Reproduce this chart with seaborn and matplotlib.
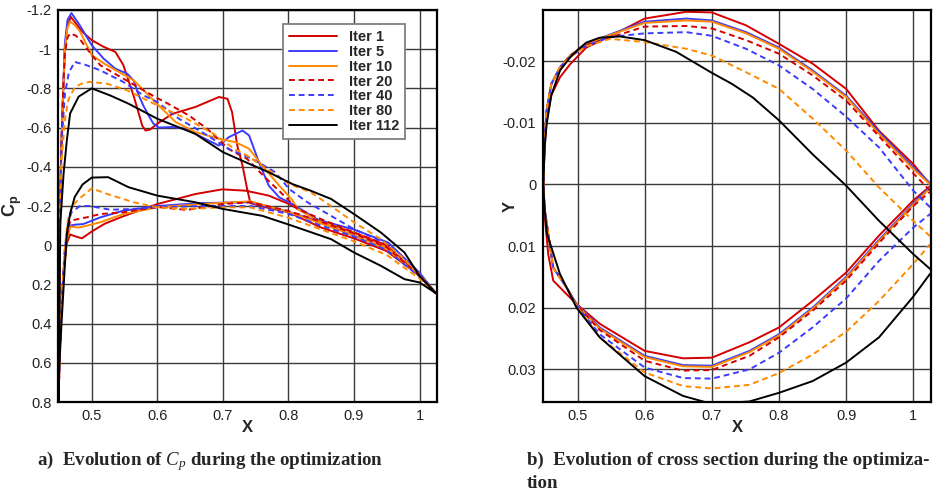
import matplotlib
matplotlib.use("Agg")
import pandas as pd
import seaborn as sns
import matplotlib.pyplot as plt
from matplotlib.ticker import MultipleLocator, FuncFormatter

# ---- series info ----
labels = ["Iter 1", "Iter 5", "Iter 10", "Iter 20", "Iter 40", "Iter 80", "Iter 112"]
colors = ["#d40000", "#3c3cff", "#ff8a00", "#d40000", "#3c3cff", "#ff8a00", "#000000"]
dashed = [False, False, False, True, True, True, False]

# ---- a) Cp distributions (upper = suction side, lower = pressure side) ----
cp1_xu = [0.449, 0.4505, 0.4515, 0.454, 0.4565, 0.459, 0.463, 0.468, 0.476, 0.485, 0.5, 0.518, 0.536, 0.548, 0.556, 0.564, 0.571, 0.577, 0.582, 0.589, 0.6, 0.623, 0.658, 0.694, 0.707, 0.714, 0.722, 0.73, 0.737, 0.742, 0.763, 0.8, 0.85, 0.9, 0.95, 1.0, 1.025]
cp1_u = [0.85, 0.3, -0.2, -0.55, -0.8, -1.0, -1.12, -1.165, -1.13, -1.09, -1.046, -1.012, -0.986, -0.92, -0.84, -0.76, -0.68, -0.61, -0.585, -0.59, -0.62, -0.67, -0.705, -0.756, -0.747, -0.679, -0.508, -0.406, -0.287, -0.215, -0.195, -0.168, -0.09, -0.035, 0.03, 0.155, 0.245]
cp1_xl = [0.449, 0.451, 0.454, 0.458, 0.462, 0.467, 0.475, 0.485, 0.5, 0.52, 0.546, 0.6, 0.658, 0.699, 0.735, 0.77, 0.801, 0.85, 0.9, 0.95, 1.0, 1.025]
cp1_l = [0.85, 0.55, 0.3, 0.1, -0.01, -0.055, -0.045, -0.035, -0.07, -0.11, -0.145, -0.21, -0.261, -0.285, -0.278, -0.253, -0.21, -0.12, -0.065, 0.0, 0.157, 0.245]

cp5_xu = [0.449, 0.4505, 0.4515, 0.454, 0.4565, 0.459, 0.463, 0.469, 0.476, 0.482, 0.5, 0.518, 0.536, 0.554, 0.564, 0.571, 0.579, 0.587, 0.594, 0.602, 0.623, 0.643, 0.668, 0.694, 0.709, 0.73, 0.74, 0.755, 0.77, 0.786, 0.806, 0.845, 0.9, 0.952, 1.0, 1.025]
cp5_u = [0.85, 0.3, -0.2, -0.55, -0.8, -1.03, -1.15, -1.184, -1.15, -1.12, -1.02, -0.952, -0.9, -0.875, -0.84, -0.77, -0.71, -0.66, -0.62, -0.6, -0.603, -0.594, -0.551, -0.508, -0.551, -0.585, -0.56, -0.423, -0.304, -0.244, -0.21, -0.13, -0.08, -0.014, 0.14, 0.245]
cp5_xl = [0.449, 0.451, 0.454, 0.458, 0.462, 0.467, 0.475, 0.487, 0.513, 0.548, 0.6, 0.666, 0.742, 0.763, 0.801, 0.85, 0.9, 0.952, 1.0, 1.025]
cp5_l = [0.85, 0.55, 0.3, 0.1, -0.03, -0.1, -0.105, -0.108, -0.142, -0.176, -0.2, -0.215, -0.219, -0.2, -0.17, -0.117, -0.048, 0.02, 0.157, 0.245]

cp10_xu = [0.449, 0.4505, 0.4515, 0.454, 0.4565, 0.459, 0.463, 0.467, 0.475, 0.482, 0.5, 0.523, 0.564, 0.582, 0.597, 0.628, 0.658, 0.694, 0.719, 0.74, 0.76, 0.786, 0.806, 0.814, 0.845, 0.9, 0.952, 1.0, 1.025]
cp10_u = [0.85, 0.3, -0.2, -0.55, -0.8, -1.0, -1.11, -1.141, -1.12, -1.09, -0.969, -0.918, -0.841, -0.78, -0.73, -0.628, -0.577, -0.543, -0.526, -0.492, -0.406, -0.304, -0.23, -0.185, -0.125, -0.065, 0.012, 0.148, 0.245]
cp10_xl = [0.449, 0.451, 0.454, 0.458, 0.462, 0.467, 0.48, 0.492, 0.513, 0.548, 0.6, 0.666, 0.742, 0.8, 0.85, 0.9, 0.95, 1.0, 1.025]
cp10_l = [0.85, 0.55, 0.3, 0.1, -0.03, -0.095, -0.09, -0.099, -0.117, -0.159, -0.193, -0.21, -0.224, -0.17, -0.11, -0.05, 0.02, 0.155, 0.245]

cp20_xu = [0.449, 0.4505, 0.4515, 0.454, 0.4565, 0.459, 0.463, 0.467, 0.475, 0.482, 0.5, 0.513, 0.548, 0.579, 0.6, 0.612, 0.648, 0.676, 0.709, 0.737, 0.763, 0.788, 0.814, 0.85, 0.9, 0.952, 1.0, 1.025]
cp20_u = [0.85, 0.3, -0.2, -0.55, -0.8, -0.98, -1.06, -1.08, -1.07, -1.05, -0.97, -0.918, -0.85, -0.79, -0.75, -0.73, -0.662, -0.594, -0.49, -0.44, -0.35, -0.27, -0.185, -0.133, -0.065, 0.003, 0.148, 0.245]
cp20_xl = [0.449, 0.451, 0.454, 0.458, 0.462, 0.467, 0.492, 0.513, 0.548, 0.6, 0.645, 0.7, 0.742, 0.8, 0.85, 0.9, 0.95, 1.0, 1.025]
cp20_l = [0.85, 0.55, 0.3, 0.1, -0.05, -0.125, -0.142, -0.159, -0.168, -0.195, -0.18, -0.21, -0.219, -0.175, -0.12, -0.06, 0.01, 0.155, 0.245]

cp40_xu = [0.449, 0.4505, 0.452, 0.454, 0.459, 0.465, 0.474, 0.492, 0.513, 0.548, 0.579, 0.6, 0.633, 0.668, 0.709, 0.745, 0.78, 0.801, 0.829, 0.865, 0.9, 0.952, 1.0, 1.025]
cp40_u = [0.85, 0.3, -0.2, -0.53, -0.77, -0.88, -0.935, -0.918, -0.892, -0.833, -0.764, -0.73, -0.645, -0.577, -0.491, -0.44, -0.372, -0.287, -0.219, -0.15, -0.082, -0.005, 0.148, 0.245]
cp40_xl = [0.449, 0.451, 0.454, 0.458, 0.463, 0.469, 0.482, 0.497, 0.528, 0.564, 0.6, 0.666, 0.742, 0.8, 0.85, 0.9, 0.95, 1.0, 1.025]
cp40_l = [0.85, 0.55, 0.3, 0.05, -0.1, -0.168, -0.2, -0.2, -0.181, -0.185, -0.193, -0.2, -0.2, -0.16, -0.1, -0.045, 0.025, 0.16, 0.245]

cp80_xu = [0.449, 0.4505, 0.452, 0.454, 0.459, 0.464, 0.474, 0.485, 0.497, 0.523, 0.554, 0.6, 0.645, 0.686, 0.717, 0.737, 0.763, 0.801, 0.834, 0.865, 0.9, 0.941, 0.977, 1.0, 1.025]
cp80_u = [0.85, 0.3, -0.15, -0.43, -0.64, -0.74, -0.805, -0.825, -0.833, -0.824, -0.79, -0.713, -0.645, -0.568, -0.492, -0.457, -0.398, -0.313, -0.27, -0.2, -0.117, -0.031, 0.071, 0.157, 0.245]
cp80_xl = [0.449, 0.451, 0.454, 0.458, 0.463, 0.47, 0.482, 0.5, 0.523, 0.564, 0.6, 0.645, 0.7, 0.742, 0.8, 0.85, 0.9, 0.95, 1.0, 1.025]
cp80_l = [0.85, 0.55, 0.3, 0.05, -0.12, -0.2, -0.24, -0.29, -0.262, -0.219, -0.193, -0.185, -0.193, -0.193, -0.14, -0.08, -0.02, 0.05, 0.17, 0.245]

cp112_xu = [0.449, 0.4505, 0.452, 0.457, 0.462, 0.467, 0.48, 0.5, 0.528, 0.556, 0.6, 0.658, 0.7, 0.735, 0.77, 0.806, 0.834, 0.865, 0.9, 0.941, 0.977, 1.0, 1.025]
cp112_u = [0.85, 0.4, -0.11, -0.365, -0.536, -0.672, -0.758, -0.8, -0.764, -0.722, -0.645, -0.568, -0.475, -0.423, -0.372, -0.312, -0.278, -0.236, -0.159, -0.065, 0.037, 0.157, 0.245]
cp112_xl = [0.449, 0.45, 0.454, 0.459, 0.462, 0.467, 0.474, 0.486, 0.5, 0.525, 0.556, 0.6, 0.658, 0.7, 0.76, 0.806, 0.865, 0.9, 0.941, 0.977, 1.0, 1.025]
cp112_l = [0.85, 0.65, 0.39, 0.1, -0.058, -0.161, -0.246, -0.31, -0.345, -0.347, -0.296, -0.253, -0.219, -0.185, -0.15, -0.099, -0.031, 0.037, 0.105, 0.173, 0.19, 0.245]

# ---- b) cross sections ----
sec_xu = [0.449, 0.451, 0.454, 0.461, 0.474, 0.489, 0.513, 0.548, 0.6, 0.662, 0.7, 0.751, 0.8, 0.85, 0.9, 0.949, 1.0, 1.025]
sec_xl = [0.449, 0.451, 0.4563, 0.4638, 0.4837, 0.4985, 0.533, 0.6, 0.657, 0.7, 0.756, 0.8, 0.85, 0.9, 0.949, 1.0, 1.025]

y1_u = [0.0, -0.006, -0.0105, -0.0145, -0.0174, -0.0195, -0.0222, -0.024, -0.0269, -0.028, -0.0279, -0.0258, -0.0228, -0.0196, -0.0155, -0.0087, -0.0033, 0.0]
y1_l = [0.0, 0.005, 0.0113, 0.0156, 0.0178, 0.0194, 0.0226, 0.027, 0.0282, 0.0281, 0.0256, 0.0232, 0.0189, 0.0143, 0.0083, 0.0026, 0.0003]
y5_u = [0.0, -0.007, -0.012, -0.0163, -0.019, -0.0209, -0.0228, -0.0243, -0.0264, -0.0269, -0.0266, -0.0247, -0.0222, -0.0185, -0.0144, -0.0085, -0.0028, -0.0002]
y5_l = [0.0, 0.004, 0.008, 0.0135, 0.0167, 0.0194, 0.0232, 0.0278, 0.0293, 0.0294, 0.027, 0.0243, 0.0200, 0.0150, 0.0090, 0.0031, 0.0004]
y10_u = [0.0, -0.007, -0.012, -0.0163, -0.019, -0.0209, -0.0228, -0.0242, -0.0262, -0.0266, -0.0264, -0.0245, -0.022, -0.0183, -0.0142, -0.0082, -0.0025, 0.0]
y10_l = [0.0, 0.004, 0.008, 0.0135, 0.0167, 0.0195, 0.0234, 0.028, 0.0295, 0.0296, 0.0272, 0.0245, 0.0202, 0.0152, 0.0092, 0.0033, 0.0006]
y20_u = [0.0, -0.007, -0.012, -0.0163, -0.019, -0.0209, -0.0226, -0.0238, -0.0256, -0.0257, -0.0253, -0.0234, -0.0212, -0.0177, -0.0136, -0.0078, -0.0018, 0.001]
y20_l = [0.0, 0.004, 0.008, 0.0135, 0.0167, 0.0195, 0.0236, 0.0286, 0.0302, 0.0301, 0.0278, 0.0248, 0.0205, 0.0156, 0.0095, 0.0035, 0.0012]
y40_u = [0.0, -0.007, -0.012, -0.0163, -0.019, -0.0207, -0.0225, -0.0239, -0.0245, -0.0247, -0.0241, -0.022, -0.0193, -0.0155, -0.011, -0.006, 0.001, 0.0037]
y40_l = [0.0, 0.004, 0.008, 0.0135, 0.0167, 0.0196, 0.0243, 0.0297, 0.0314, 0.0315, 0.030, 0.0273, 0.0232, 0.0185, 0.0124, 0.007, 0.0048]
y80_u = [0.0, -0.007, -0.012, -0.0163, -0.019, -0.0207, -0.0224, -0.0236, -0.0231, -0.022, -0.0209, -0.0182, -0.0155, -0.0107, -0.0055, 0.0005, 0.0059, 0.0084]
y80_l = [0.0, 0.004, 0.008, 0.0135, 0.0168, 0.0197, 0.0248, 0.0305, 0.0327, 0.0331, 0.0325, 0.0306, 0.0276, 0.0239, 0.0189, 0.0129, 0.0097]

sec112_xu = [0.449, 0.451, 0.454, 0.461, 0.474, 0.489, 0.5, 0.513, 0.533, 0.563, 0.6, 0.647, 0.7, 0.73, 0.761, 0.8, 0.85, 0.9, 0.949, 1.0, 1.025]
y112_u = [0.0, -0.006, -0.0098, -0.0145, -0.0185, -0.0206, -0.0218, -0.023, -0.0238, -0.024, -0.0234, -0.0215, -0.0181, -0.0163, -0.0141, -0.0104, -0.0049, 0.0002, 0.0059, 0.0113, 0.0137]
sec112_xl = [0.449, 0.451, 0.4545, 0.4737, 0.4985, 0.533, 0.6, 0.657, 0.7, 0.756, 0.8, 0.85, 0.9, 0.949, 1.0, 1.025]
y112_l = [0.0, 0.004, 0.008, 0.0145, 0.02, 0.0248, 0.0311, 0.0343, 0.0356, 0.0352, 0.0338, 0.0319, 0.0289, 0.0248, 0.0182, 0.0145]

cp_curves = [
    (cp1_xu, cp1_u, cp1_xl, cp1_l), (cp5_xu, cp5_u, cp5_xl, cp5_l),
    (cp10_xu, cp10_u, cp10_xl, cp10_l), (cp20_xu, cp20_u, cp20_xl, cp20_l),
    (cp40_xu, cp40_u, cp40_xl, cp40_l), (cp80_xu, cp80_u, cp80_xl, cp80_l),
    (cp112_xu, cp112_u, cp112_xl, cp112_l),
]
sec_curves = [
    (sec_xu, y1_u, sec_xl, y1_l), (sec_xu, y5_u, sec_xl, y5_l),
    (sec_xu, y10_u, sec_xl, y10_l), (sec_xu, y20_u, sec_xl, y20_l),
    (sec_xu, y40_u, sec_xl, y40_l), (sec_xu, y80_u, sec_xl, y80_l),
    (sec112_xu, y112_u, sec112_xl, y112_l),
]


def loop_frame(xu, yu, xl, yl):
    # trailing edge -> upper side -> leading edge -> lower side -> trailing edge
    return pd.DataFrame({"x": list(xu[::-1]) + list(xl), "y": list(yu[::-1]) + list(yl)})


sns.set_style("white")
plt.rcParams["font.family"] = ["Liberation Sans", "DejaVu Sans"]
plt.rcParams["mathtext.fontset"] = "custom"
plt.rcParams["mathtext.it"] = "Liberation Serif:italic"
plt.rcParams["mathtext.bf"] = "Liberation Sans:bold"
plt.rcParams["mathtext.rm"] = "Liberation Sans"

fig = plt.figure(figsize=(9.47, 4.97), dpi=100)
ax1 = fig.add_axes([0.0616, 0.191, 0.3994, 0.789])
ax2 = fig.add_axes([0.5737, 0.191, 0.4091, 0.789])

fmt = FuncFormatter(lambda v, p: f"{v:g}" if abs(v) > 1e-9 else "0")

for ax, curves in ((ax1, cp_curves), (ax2, sec_curves)):
    for (xu, yu, xl, yl), lab, col, dsh in zip(curves, labels, colors, dashed):
        sns.lineplot(data=loop_frame(xu, yu, xl, yl), x="x", y="y", sort=False,
                     estimator=None, color=col, lw=1.4,
                     linestyle=(0, (3, 2)) if dsh else "-",
                     label=lab if ax is ax1 else None, legend=False, ax=ax)
    ax.grid(True, which="major", color="#3a3a3a", lw=1.0)
    ax.set_axisbelow(True)
    for s in ax.spines.values():
        s.set_color("black")
        s.set_linewidth(1.6)
    ax.tick_params(which="both", direction="in", top=False, right=False,
                   labelsize=10.5, colors="black", labelcolor="#222222")
    ax.tick_params(which="major", length=7, width=1.2, pad=5)
    ax.tick_params(which="minor", length=4, width=1.0)
    ax.xaxis.set_major_locator(MultipleLocator(0.1))
    ax.xaxis.set_minor_locator(MultipleLocator(0.02))
    ax.xaxis.set_major_formatter(fmt)
    ax.yaxis.set_major_formatter(fmt)
    ax.set_xlim(0.449, 1.026)
    ax.set_xlabel("X", fontsize=12, fontweight="bold", labelpad=-2)

ax1.set_ylim(0.8, -1.2)
ax1.yaxis.set_major_locator(MultipleLocator(0.2))
ax1.yaxis.set_minor_locator(MultipleLocator(0.05))
ax1.set_ylabel(r"$\mathbf{C_p}$", fontsize=13)
ax1.yaxis.set_label_coords(-0.092, 0.5)

ax2.set_ylim(0.0353, -0.0283)
ax2.yaxis.set_major_locator(MultipleLocator(0.01))
ax2.yaxis.set_minor_locator(MultipleLocator(0.002))
ax2.set_ylabel("Y", fontsize=12, fontweight="bold")
ax2.yaxis.set_label_coords(-0.066, 0.5)

leg = ax1.legend(loc="upper right", bbox_to_anchor=(0.928, 0.975), fancybox=False,
                 framealpha=1, edgecolor="#7f7f7f", handlelength=3.3, handletextpad=0.8,
                 labelspacing=0.06, borderpad=0.4, borderaxespad=0.3,
                 prop={"weight": "bold", "size": 10.5})
leg.get_frame().set_linewidth(1.3)
for h in leg.get_lines():
    h.set_linewidth(1.4)

cap = dict(family=["Liberation Serif", "DejaVu Serif"], fontweight="bold", fontsize=13.6)
fig.text(0.039, 0.064, r"a)  Evolution of $C_p$ during the optimization", ha="left", va="baseline", **cap)
fig.text(0.5565, 0.064, "b)  Evolution of cross section during the optimiza-", ha="left", va="baseline", **cap)
fig.text(0.5565, 0.018, "tion", ha="left", va="baseline", **cap)

plt.savefig("out.png", dpi=100)
